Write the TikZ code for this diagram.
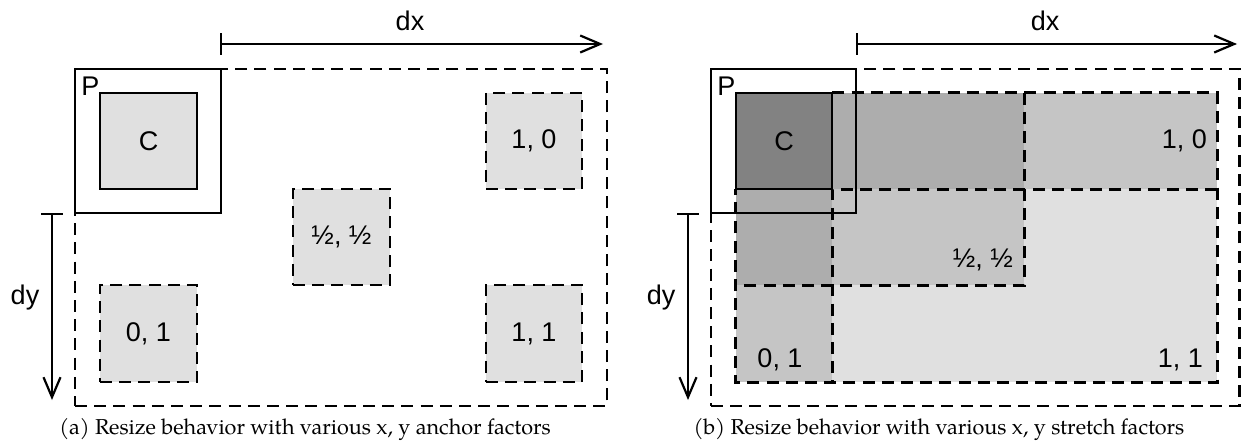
\documentclass[tikz,border=0pt]{standalone}
\usepackage{fontspec}
\newfontfamily\labelfont{Liberation Sans}
\newfontfamily\capfont{texgyrepagella-regular.otf}
\usetikzlibrary{arrows.meta,fit}

\tikzset{
  tag/.style={font=\labelfont\fontsize{13.5}{16}\selectfont, inner sep=0pt},
  solidbox/.style={draw, line width=1.15pt, inner sep=0pt},
  dashbox/.style={draw, line width=1.15pt, dash pattern=on 6pt off 3.6pt, inner sep=0pt},
  dashline/.style={line width=1.15pt, dash pattern=on 6pt off 3.6pt},
  lightfill/.style={fill=black!12},
  layer/.style={fill=black, fill opacity=0.12, inner sep=0pt},
  dim/.style={line width=1.1pt, {Bar[width=11pt]}-{Straight Barb[length=10pt,width=8.5pt]}},
  caption/.style={font=\capfont\fontsize{10.8}{13}\selectfont, anchor=base, inner sep=0pt},
}

\begin{document}
\begin{tikzpicture}[x=0.5pt, y=-0.5pt]
\useasboundingbox (0,0) rectangle (1241,444);

% ---------- (a) anchor factors ----------
\coordinate (adx0) at (220,44);
\coordinate (adx1) at (603,44);
\draw[dim] (adx0) -- (adx1);
\node[tag] (adxl) at (410,21) {dx};
\coordinate (ady0) at (52,213);
\coordinate (ady1) at (52,400);
\draw[dim] (ady0) -- (ady1);
\node[tag] (adyl) at (25,298) {dy};

\node[dashbox, fit={(75,69) (607,406)}] (aout) {};
\node[solidbox, fit={(75,69) (221,213)}] (aP) {};
\node[tag, anchor=base west] (aPl) at (81,96) {P};
\node[solidbox, lightfill, fit={(100,93) (197,189)}] (aC) {};
\node[tag] (aCl) at (aC) {C};

\node[dashbox, lightfill, fit={(486,93) (582,189)}] (a10) {};
\node[tag] (a10l) at (a10) {1, 0};
\node[dashbox, lightfill, fit={(293,189) (390,285)}] (a55) {};
\node[tag] (a55l) at (a55) {½, ½};
\node[dashbox, lightfill, fit={(100,285) (197,382)}] (a01) {};
\node[tag] (a01l) at (a01) {0, 1};
\node[dashbox, lightfill, fit={(486,285) (582,382)}] (a11) {};
\node[tag] (a11l) at (a11) {1, 1};

\node[caption] (capa) at (305,434) {(a) Resize behavior with various x, y anchor factors};

% ---------- (b) stretch factors ----------
\coordinate (bdx0) at (856,44);
\coordinate (bdx1) at (1237,44);
\draw[dim] (bdx0) -- (bdx1);
\node[tag] (bdxl) at (1045,21) {dx};
\coordinate (bdy0) at (688,213);
\coordinate (bdy1) at (688,400);
\draw[dim] (bdy0) -- (bdy1);
\node[tag] (bdyl) at (661,298) {dy};

\node[dashbox, fit={(711,69) (1239.5,406)}] (bout) {};

% stretched child areas, layered
\node[layer, fit={(736,93) (1217,189)}] (b10) {};
\node[layer, fit={(736,93) (1024,285)}] (b55) {};
\node[layer, fit={(736,93) (832,382)}] (b01) {};
\node[layer, fit={(736,93) (1217,382)}] (b11) {};

\draw[dashline] (b01.north east) -- (b11.north east) -- (b11.south east)
  -- (b11.south west) -- (b01.west |- b10.south);
\draw[dashline] (b10.south east) -- (b01.east |- b10.south) -- (b01.south east);
\draw[dashline] (b55.north east) -- (b55.south east) -- (b55.south west);

\node[solidbox, fill=black!49, fit={(736,93) (832,189)}] (bC) {};
\node[tag] (bCl) at (bC) {C};
\node[solidbox, fit={(711,69) (856,213)}] (bP) {};
\node[tag, anchor=base west] (bPl) at (717,96) {P};

\node[tag, anchor=east] (b10l) at ([xshift=-5pt]b10.east) {1, 0};
\node[tag, anchor=base east] (b55l) at ([xshift=-5.5pt, yshift=9pt]b55.south east) {½, ½};
\node[tag, anchor=base] (b01l) at ([xshift=-2pt, yshift=7.5pt]b01.south) {0, 1};
\node[tag, anchor=base east] (b11l) at ([xshift=-7pt, yshift=7.5pt]b11.south east) {1, 1};

\node[caption] (capb) at (939,434) {(b) Resize behavior with various x, y stretch factors};
\end{tikzpicture}
\end{document}
